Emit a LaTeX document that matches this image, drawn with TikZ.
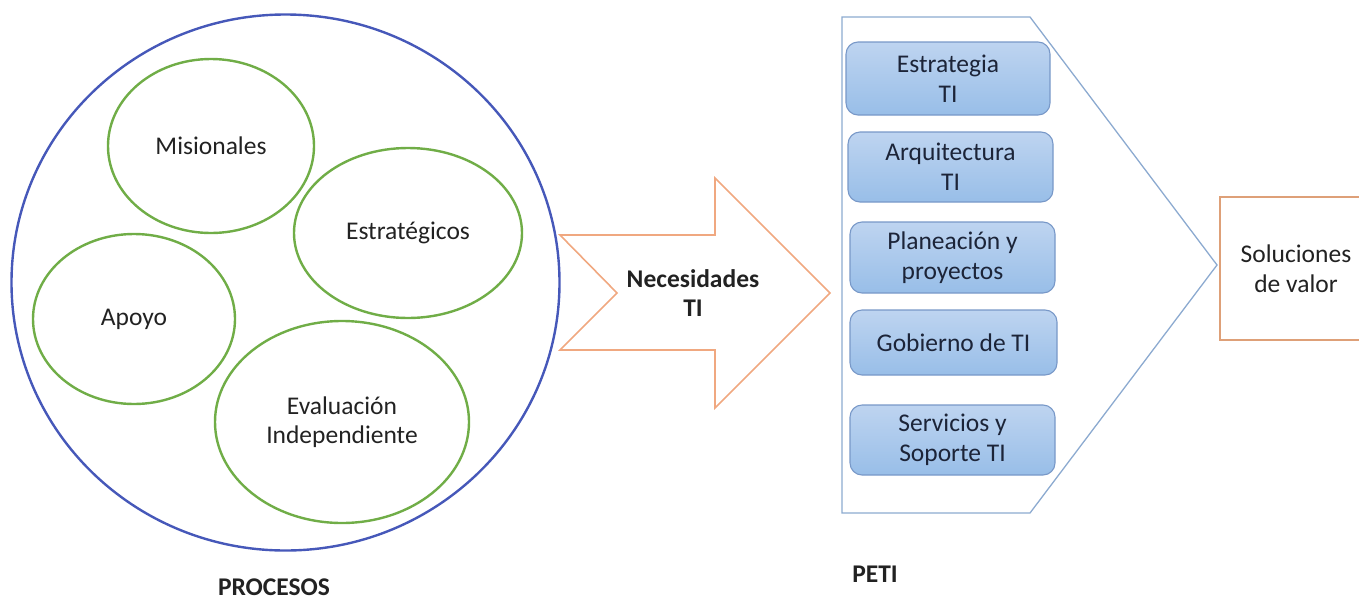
\documentclass[tikz,border=0pt]{standalone}
\usepackage{fontspec}
\setmainfont{Carlito}
\usetikzlibrary{shapes.geometric}
\definecolor{circblue}{RGB}{70,88,185}
\definecolor{elgreen}{RGB}{112,173,71}
\definecolor{arrorange}{RGB}{240,168,128}
\definecolor{solorange}{RGB}{222,160,120}
\definecolor{chevblue}{RGB}{140,170,208}
\definecolor{boxtop}{RGB}{190,212,240}
\definecolor{boxbot}{RGB}{152,190,232}
\definecolor{boxline}{RGB}{120,152,200}
\definecolor{txt}{RGB}{34,34,34}
\definecolor{boxtxt}{RGB}{28,36,56}
\tikzset{
  procell/.style={ellipse, draw=elgreen, line width=2.4pt, inner sep=0pt, align=center, text=txt},
  petibox/.style={draw=boxline, line width=1.1pt, rounded corners=12pt, top color=boxtop, bottom color=boxbot, inner sep=0pt, align=center, text=boxtxt},
  lbl/.style={font=\bfseries, text=txt, inner sep=0pt, anchor=base}
}
\begin{document}
\begin{tikzpicture}[x=1pt,y=-1pt, every node/.style={font=\fontsize{25.5}{30}\selectfont}]
\useasboundingbox (0,0) rectangle (1359,600);
% big circle
\node[ellipse, draw=circblue, line width=2.4pt, minimum width=548pt, minimum height=536pt, inner sep=0pt] (proc) at (285.5,282.5) {};
\node[procell, minimum width=206pt, minimum height=174pt] (mis) at (211,146) {Misionales};
\node[procell, minimum width=228pt, minimum height=170pt] (est) at (408,233) {Estratégicos};
\node[procell, minimum width=202pt, minimum height=170pt] (apo) at (134,319) {Apoyo};
\node[procell, minimum width=254pt, minimum height=202pt, font=\fontsize{25.5}{28.5}\selectfont] (eva) at (342,422) {Evaluación\\Independiente};
\node[lbl, font=\fontsize{25.5}{30}\selectfont\bfseries] (proclbl) at (274,595) {PROCESOS};
% big arrow
\draw[arrorange, line width=1.6pt, line join=miter] (560,235) -- (715,235) -- (715,178) -- (830,293) -- (715,408) -- (715,350) -- (560,350) -- (617,293) -- cycle;
\node[align=center, text=txt, font=\fontsize{25.5}{29}\selectfont\bfseries] (nec) at (693,293) {Necesidades\\TI};
% chevron
\draw[chevblue, line width=1.3pt] (842,17) -- (1030,17) -- (1217,265) -- (1030,513) -- (842,513) -- cycle;
\node[petibox, minimum width=204pt, minimum height=73pt] (b1) at (948,78.5) {Estrategia\\TI};
\node[petibox, minimum width=205pt, minimum height=70pt] (b2) at (950.5,167) {Arquitectura\\TI};
\node[petibox, minimum width=205pt, minimum height=71pt] (b3) at (952.5,257.5) {Planeación y\\proyectos};
\node[petibox, minimum width=207pt, minimum height=65pt] (b4) at (953.5,342.5) {Gobierno de TI};
\node[petibox, minimum width=205pt, minimum height=70pt] (b5) at (952.5,440) {Servicios y\\Soporte TI};
\node[lbl, font=\fontsize{25.5}{30}\selectfont\bfseries] (petilbl) at (875,582) {PETI};
% solutions box
\node[draw=solorange, line width=1.8pt, fill=white, minimum width=152pt, minimum height=143pt, inner sep=0pt, align=center, text=txt] (sol) at (1296,268.5) {Soluciones\\de valor};
\end{tikzpicture}
\end{document}
